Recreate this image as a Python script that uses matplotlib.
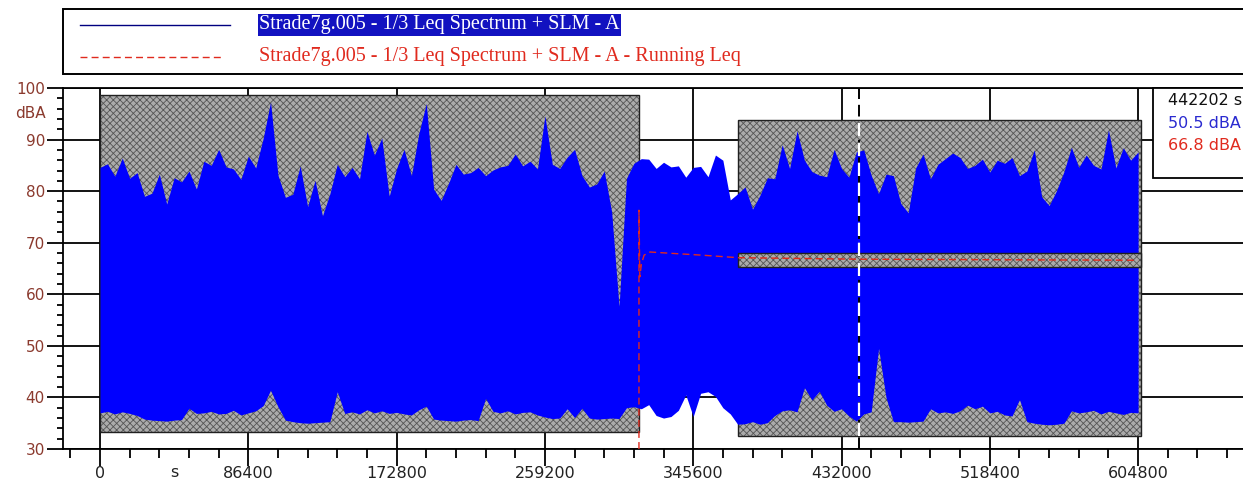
import matplotlib
matplotlib.use("Agg")
import matplotlib.pyplot as plt
from matplotlib.patches import Rectangle
from matplotlib.lines import Line2D
from matplotlib.transforms import blended_transform_factory
from matplotlib.ticker import MultipleLocator

W, H = 1243, 486
DAY = 86400
STEP = 4320  # one block every 1/20 day

# per-block maximum / minimum of the A-weighted level (dBA)
lmax = [
    84.6, 85.3, 82.9, 86.4, 82.5, 83.6, 79.0, 79.6, 83.3, 77.5,
    82.6, 81.8, 83.9, 80.4, 85.8, 85.0, 88.1, 84.7, 84.3, 82.3,
    86.8, 84.5, 90.2, 97.3, 83.1, 78.8, 79.4, 84.9, 77.0, 82.1,
    75.2, 79.5, 85.2, 82.8, 84.6, 82.4, 91.6, 87.0, 90.3, 79.0,
    84.4, 88.1, 83.0, 91.2, 97.0, 80.4, 78.2, 81.5, 85.2, 83.3,
    83.6, 84.6, 83.0, 84.1, 84.7, 85.0, 87.2, 84.9, 85.8, 84.3,
    94.6, 85.2, 84.4, 86.6, 88.1, 83.0, 80.8, 81.4, 83.9, 76.0,
    57.6, 82.5, 85.4, 86.3, 86.2, 84.4, 85.6, 84.7, 84.9, 82.7,
    84.6, 84.8, 82.8, 87.0, 86.0, 78.3, 79.5, 80.8, 76.5, 79.2,
    82.6, 82.4, 89.0, 84.4, 91.7, 86.0, 83.8, 83.1, 82.8, 88.1,
    84.4, 82.7, 87.6, 88.0, 83.1, 79.5, 83.3, 83.0, 77.6, 75.8,
    84.5, 87.2, 82.4, 85.2, 86.3, 87.4, 86.5, 84.4, 85.0, 86.2,
    83.7, 86.0, 85.4, 86.5, 83.0, 83.9, 88.0, 78.9, 77.2, 80.1,
    83.8, 88.5, 84.6, 87.0, 85.0, 84.3, 91.9, 84.5, 88.4, 86.0,
    87.6,
]
lmin = [
    37.0, 37.3, 36.8, 37.2, 36.9, 36.5, 35.8, 35.6, 35.5, 35.4,
    35.6, 35.7, 37.9, 36.9, 37.0, 37.3, 36.8, 36.9, 37.5, 36.6,
    37.0, 37.4, 38.4, 41.4, 38.2, 35.6, 35.3, 35.1, 35.0, 35.1,
    35.2, 35.3, 41.1, 36.9, 37.2, 36.8, 37.6, 37.0, 37.4, 36.9,
    37.1, 36.8, 36.6, 37.6, 38.3, 35.8, 35.6, 35.5, 35.4, 35.6,
    35.7, 35.5, 39.8, 37.3, 37.0, 37.4, 36.8, 37.1, 37.2, 36.6,
    36.2, 35.9, 36.0, 37.8, 36.1, 37.9, 36.0, 35.8, 35.9, 36.0,
    35.9, 38.0, 38.2, 37.8, 38.6, 36.5, 36.0, 36.3, 37.5, 40.5,
    36.3, 40.8, 41.1, 40.2, 38.0, 36.8, 34.8, 34.9, 35.3, 34.8,
    35.1, 36.5, 37.4, 37.6, 37.2, 41.9, 39.5, 41.2, 38.5, 37.3,
    37.8, 36.4, 35.4, 36.8, 37.2, 49.5, 40.0, 35.3, 35.3, 35.2,
    35.3, 35.4, 37.8, 37.0, 37.2, 36.9, 37.4, 38.5, 37.8, 38.3,
    37.0, 37.3, 36.6, 36.4, 39.6, 35.3, 35.0, 34.8, 34.7, 34.8,
    35.0, 37.4, 37.0, 37.2, 37.5, 36.8, 37.3, 37.0, 36.7, 37.1,
    37.0,
]
t = [i * STEP for i in range(len(lmax))]

# excluded periods: start, end, level range of the hatched box
excl_start = [0, 371700]
excl_end = [314000, 606600]
excl_lo = [33.3, 32.5]
excl_hi = [98.7, 93.7]

# running Leq
leq_t = [314000, 314000, 314500, 315400, 317000, 320500, 330000, 350000,
         371700, 442202, 604800]
leq_db = [30.0, 76.3, 63.4, 65.8, 67.6, 68.2, 68.0, 67.6, 67.1, 66.8, 66.6]
leq_band = [65.3, 68.1]

cursor_t = 442202
cursor_l = 50.5
cursor_leq = 66.8

name = "Strade7g.005 - 1/3 Leq Spectrum + SLM - A"
BLUE = "#0000ff"
RED = "#e02a1e"
LABEL_RED = "#8b3a2e"

plt.rcParams["hatch.linewidth"] = 0.6


def px(x, y):
    return x / W, 1 - y / H


def hatched_box(ax, x, y, w, h, z):
    # dithered grey fill plus a thin dark outline
    ax.add_patch(Rectangle((x, y), w, h, facecolor="#ababab",
                           edgecolor="#555555", lw=0, hatch="xxxxx",
                           zorder=z))
    ax.add_patch(Rectangle((x, y), w, h, fill=False, edgecolor="#202020",
                           lw=1.0, zorder=z))


fig = plt.figure(figsize=(W / 100, H / 100), dpi=100)
ax_left, ax_bottom = px(63, 449)
ax_top = px(0, 88)[1]
ax = fig.add_axes([ax_left, ax_bottom, 1 - ax_left, ax_top - ax_bottom])

xmin = -(100 - 63) / 148.3 * DAY
xmax = (W - 100) / 148.3 * DAY
ax.set_xlim(xmin, xmax)
ax.set_ylim(30, 100)

# grid
for gx in range(0, 7 * DAY + 1, DAY):
    ax.axvline(gx, color="black", lw=1.3, zorder=0.5)
for gy in range(30, 101, 10):
    ax.axhline(gy, color="black", lw=1.3, zorder=0.5)

# excluded periods
for s, e, lo, hi in zip(excl_start, excl_end, excl_lo, excl_hi):
    hatched_box(ax, s, lo, e - s, hi - lo, 1)

ax.fill_between(t, lmin, lmax, color=BLUE, lw=0, zorder=2)

# running Leq, hidden behind a band inside the second exclusion
hatched_box(ax, excl_start[1], leq_band[0], excl_end[1] - excl_start[1],
            leq_band[1] - leq_band[0], 3)
ax.plot(leq_t, leq_db, color=RED, lw=1.0, dashes=(5, 3), zorder=4)

# cursor
ax.axvline(cursor_t, color="black", lw=1.4, dashes=(6, 3), zorder=4.5)
ax.plot([cursor_t, cursor_t], [excl_lo[1], excl_hi[1]], color="white",
        lw=1.6, dashes=(6, 3), zorder=5)

# axes styling
ax.spines["right"].set_visible(False)
for side in ("left", "bottom", "top"):
    ax.spines[side].set_linewidth(1.3)
ax.set_xticks(range(0, 7 * DAY + 1, DAY))
ax.set_xticklabels([str(v) for v in range(0, 7 * DAY + 1, DAY)])
ax.xaxis.set_minor_locator(MultipleLocator(DAY / 5))
ax.set_yticks(range(30, 101, 10))
ax.yaxis.set_minor_locator(MultipleLocator(2))
ax.tick_params(axis="x", which="major", length=12, width=1.3, pad=0.5,
               labelsize=11.5, labelcolor="#222222")
ax.tick_params(axis="x", which="minor", length=6.5, width=1.3)
ax.tick_params(axis="y", which="major", length=11.5, width=1.3, pad=1.5,
               labelsize=11, labelcolor=LABEL_RED)
ax.tick_params(axis="y", which="minor", length=4.5, width=1.3)

xt = blended_transform_factory(ax.transData, ax.transAxes)
ax.text(DAY / 2, -0.064, "s", transform=xt, ha="center", va="center",
        fontsize=11.5, color="#222222")
ax.text(-0.0144, 0.93, "dBA", transform=ax.transAxes, ha="right",
        va="center", fontsize=11, color=LABEL_RED)

# cursor read-out box
ax.add_patch(Rectangle((0.9237, 0.7507), 0.2, 0.2493, transform=ax.transAxes,
                       facecolor="white", edgecolor="black", lw=1.3,
                       clip_on=False, zorder=6))
ax.text(0.9364, 0.964, f"{cursor_t} s", transform=ax.transAxes,
        va="center", fontsize=11.5, color="#111111", zorder=7)
ax.text(0.9364, 0.903, f"{cursor_l} dBA", transform=ax.transAxes,
        va="center", fontsize=11.5, color="#2a2ad0", zorder=7)
ax.text(0.9364, 0.842, f"{cursor_leq} dBA", transform=ax.transAxes,
        va="center", fontsize=11.5, color=RED, zorder=7)

# legend frame
x0, y0 = px(63, 74)
fig.add_artist(Rectangle((x0, y0), 1.0, 65 / H, transform=fig.transFigure,
                         facecolor="white", edgecolor="black", lw=1.4))
fig.add_artist(Line2D([80 / W, 230 / W], [px(0, 25)[1]] * 2,
                      color="#000080", lw=1.0))
fig.add_artist(Line2D([80 / W, 224 / W], [px(0, 57)[1]] * 2,
                      color=RED, lw=1.0, dashes=(5, 3)))
fig.text(259 / W, px(0, 25)[1], name, family="Liberation Serif",
         fontsize=14.5, color="white", va="center",
         bbox=dict(facecolor="#1212c0", edgecolor="none", pad=1.0))
fig.text(259 / W, px(0, 57)[1], name + " - Running Leq",
         family="Liberation Serif", fontsize=14.5, color=RED, va="center")

fig.savefig("out.png", dpi=100)
